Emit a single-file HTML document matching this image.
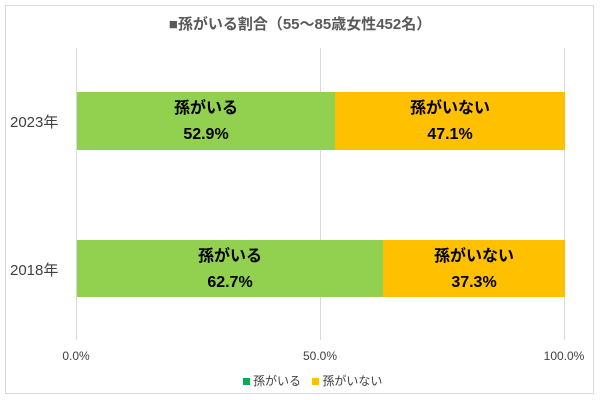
<!DOCTYPE html>
<html><head><meta charset="utf-8"><style>
body{margin:0;width:600px;height:400px;background:#fff;overflow:hidden;font-family:"Liberation Sans","Noto Sans CJK JP",sans-serif;}
.a{position:absolute;}
</style></head><body>
<div class="a" style="left:5px;top:5px;width:589px;height:389px;border:1px solid #d9d9d9;box-sizing:border-box"></div>
<div class="a" style="left:0;width:600px;top:13px;text-align:center;font-size:15px;font-weight:bold;color:#595959">■孫がいる割合（55～85歳女性452名）</div>
<div class="a" style="left:76px;top:48px;width:1px;height:292px;background:#d9d9d9"></div>
<div class="a" style="left:320px;top:48px;width:1px;height:292px;background:#d9d9d9"></div>
<div class="a" style="left:564px;top:48px;width:1px;height:292px;background:#d9d9d9"></div>

<div class="a" style="left:77px;top:92px;width:258px;height:58px;background:#92d050"></div>
<div class="a" style="left:335px;top:92px;width:230px;height:58px;background:#ffc000"></div>
<div class="a" style="left:77px;top:240px;width:306px;height:57px;background:#92d050"></div>
<div class="a" style="left:383px;top:240px;width:182px;height:57px;background:#ffc000"></div>

<div class="a" style="left:77px;top:96px;width:258px;text-align:center;font-size:16px;font-weight:bold;line-height:26px">孫がいる<br>52.9%</div>
<div class="a" style="left:335px;top:96px;width:230px;text-align:center;font-size:16px;font-weight:bold;line-height:26px">孫がいない<br>47.1%</div>
<div class="a" style="left:77px;top:244px;width:306px;text-align:center;font-size:16px;font-weight:bold;line-height:26px">孫がいる<br>62.7%</div>
<div class="a" style="left:383px;top:244px;width:182px;text-align:center;font-size:16px;font-weight:bold;line-height:26px">孫がいない<br>37.3%</div>

<div class="a" style="left:10px;top:111px;font-size:15px;color:#404040">2023年</div>
<div class="a" style="left:10px;top:259px;font-size:15px;color:#404040">2018年</div>

<div class="a" style="left:46px;top:349px;width:60px;text-align:center;font-size:12px;color:#404040">0.0%</div>
<div class="a" style="left:290px;top:349px;width:60px;text-align:center;font-size:12px;color:#404040">50.0%</div>
<div class="a" style="left:534px;top:349px;width:60px;text-align:center;font-size:12px;color:#404040">100.0%</div>

<div class="a" style="left:243px;top:372px;font-size:12px;color:#404040;white-space:nowrap"><span style="display:inline-block;width:7px;height:7px;background:#00b050;margin-right:3px"></span>孫がいる <span style="display:inline-block;width:7px;height:7px;background:#ffc000;margin:0 3px 0 8px"></span>孫がいない</div>
</body></html>
